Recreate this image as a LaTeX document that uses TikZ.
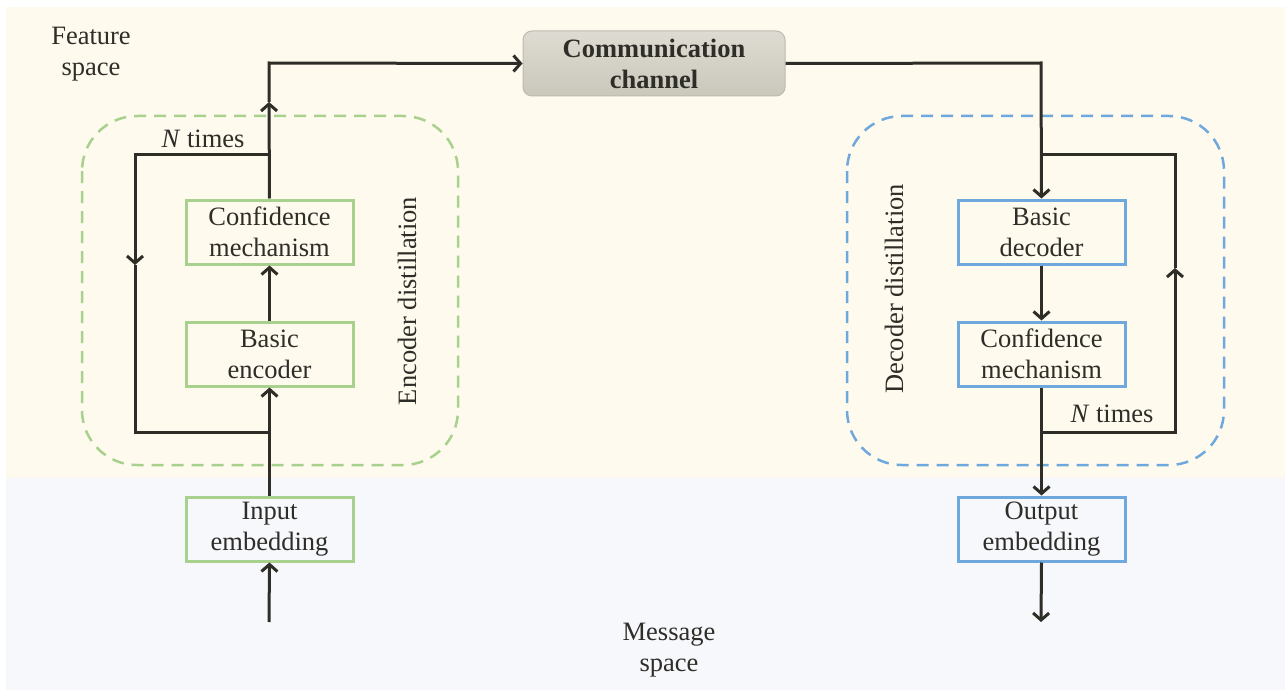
\documentclass[tikz,border=0pt]{standalone}
\usepackage{fontspec}
\setmainfont{Liberation Serif}
\usetikzlibrary{arrows.meta}
\definecolor{featbg}{HTML}{FEFAEE}
\definecolor{msgbg}{HTML}{F6F8FC}
\definecolor{encg}{HTML}{A9D18E}
\definecolor{decb}{HTML}{6FA8DC}
\definecolor{ink}{HTML}{2E2D28}
\definecolor{chtop}{HTML}{DEDBD2}
\definecolor{chbot}{HTML}{CAC7BB}
\definecolor{chbd}{HTML}{BDBAB0}
\tikzset{
  txt/.style={font=\fontsize{26.5}{31}\selectfont, text=ink, align=center},
  encbox/.style={txt, draw=encg, line width=3pt, minimum width=167pt, minimum height=64pt, inner sep=0pt},
  decbox/.style={txt, draw=decb, line width=3pt, minimum width=167pt, minimum height=64pt, inner sep=0pt},
  chanbox/.style={txt, font=\fontsize{26.5}{31}\selectfont\bfseries, draw=chbd, line width=1pt, rounded corners=9pt,
     top color=chtop, bottom color=chbot, minimum width=262pt, minimum height=65pt, inner sep=0pt},
  conn/.style={draw=ink, line width=3pt, line join=miter},
  arr/.style={conn, -{Straight Barb[length=7pt,width=16pt,line width=3pt]}},
  grp/.style={dashed, dash pattern=on 12pt off 8pt, line width=2.5pt, rounded corners=55pt},
}
\begin{document}
\begin{tikzpicture}[x=1pt,y=-1pt]
\useasboundingbox (0,0) rectangle (1285,690);
\fill[white] (0,0) rectangle (1285,690);
\fill[featbg] (6,7) rectangle (1285,477);
\fill[msgbg] (6,477) rectangle (1285,690);
\draw[color=featbg!80!brown!30, line width=1pt] (6,477) -- (1285,477);

% groups
\draw[grp, draw=encg] (82,116) rectangle (458,465);
\draw[grp, draw=decb] (847,116) rectangle (1224,465);

% labels
\node[txt] (feat) at (91,54) {Feature\\space};
\node[txt] (msg) at (669,650) {Message\\space};
\node[txt, rotate=90] (encl) at (407,301) {Encoder distillation};
\node[txt, rotate=90] (decl) at (894,289) {Decoder distillation};
\node[txt] (ntl) at (203,139) {\textit{N} times};
\node[txt] (ntr) at (1112,414) {\textit{N} times};

% nodes
\node[chanbox] (chan) at (654,63.5) {Communication\\channel};
\node[encbox] (econf) at (269.5,232) {Confidence\\mechanism};
\node[encbox] (ebas) at (269.5,354) {Basic\\encoder};
\node[encbox] (ein) at (269.5,529) {Input\\embedding};
\node[decbox] (dbas) at (1041.5,232) {Basic\\decoder};
\node[decbox] (dconf) at (1041.5,354) {Confidence\\mechanism};
\node[decbox] (dout) at (1041.5,529) {Output\\embedding};

% coordinates
\coordinate (esrc) at (269,622);
\coordinate (ejb) at (269,432);
\coordinate (elb) at (135,432);
\coordinate (elt) at (135,155);
\coordinate (ejt) at (269,155);
\coordinate (emid) at (135,265);
\coordinate (eup) at (269,102);
\coordinate (etop) at (269,63);
\coordinate (dtop) at (1041,63);
\coordinate (djt) at (1041,155);
\coordinate (drt) at (1175,155);
\coordinate (drb) at (1175,432);
\coordinate (djb) at (1041,432);
\coordinate (dmid) at (1175,268);
\coordinate (dsnk) at (1041,622);

% encoder connectors
\draw[arr] (esrc) -- (ein.south);
\draw[arr] (ein.north) -- (ebas.south);
\draw[arr] (ebas.north) -- (econf.south);
\draw[arr] (econf.north) -- (eup);
\draw[arr] (eup) -- (etop) -- (chan.west);
\draw[arr] (ejt) -- (elt) -- (emid);
\draw[conn] (emid) -- (elb) -- (ejb);

% decoder connectors
\draw[arr] (chan.east) -- (dtop) -- (dbas.north);
\draw[arr] (dbas.south) -- (dconf.north);
\draw[arr] (dconf.south) -- (dout.north);
\draw[arr] (djb) -- (drb) -- (dmid);
\draw[conn] (dmid) -- (drt) -- (djt);
\draw[arr] (dout.south) -- (dsnk);
\end{tikzpicture}
\end{document}
